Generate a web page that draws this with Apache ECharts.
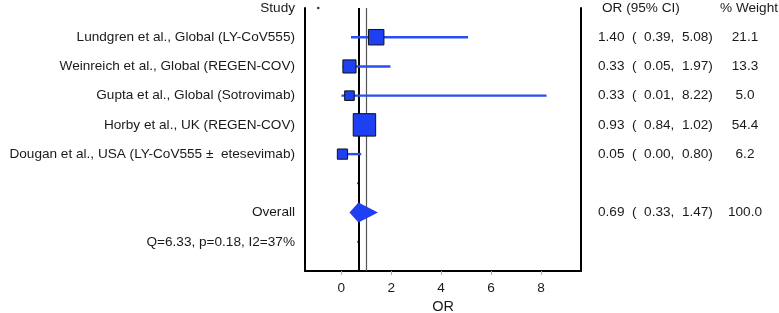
<!DOCTYPE html>
<html>
<head>
<meta charset="utf-8">
<script src="https://cdn.jsdelivr.net/npm/echarts@6/dist/echarts.min.js"></script>
<style>
  html, body { margin: 0; padding: 0; background: #fff; }
  #forest { width: 779px; height: 313px; }
</style>
</head>
<body>
<div id="forest"></div>
<script>
// row 0 is the header, studies on rows 1-5, overall on row 7, heterogeneity on row 8
const studies = [
  'Lundgren et al., Global (LY-CoV555)',
  'Weinreich et al., Global (REGEN-COV)',
  'Gupta et al., Global (Sotrovimab)',
  'Horby et al., UK (REGEN-COV)',
  'Dougan et al., USA (LY-CoV555 \u00b1  etesevimab)'
];
const orValues = [1.40, 0.33, 0.33, 0.93, 0.05];
const ciLow = [0.39, 0.05, 0.01, 0.84, 0.00];
const ciHigh = [5.08, 1.97, 8.22, 1.02, 0.80];
const weights = [21.1, 13.3, 5.0, 54.4, 6.2];
const overall = [0.69, 0.33, 1.47];
const nullValue = 1;
const heterogeneity = 'Q=6.33, p=0.18, I2=37%';
const xTicks = [0, 2, 4, 6, 8];
const headers = ['Study', 'OR (95% CI)', '% Weight'];
// stray dots left by the original plot
const dots = [[-0.92, 0], [0.69, 6], [0.69, 8]];

const studyRows = studies.map((s, i) => i + 1);
const overallRow = 7;

const fmt = (v) => v.toFixed(2);
const ciText = (o, l, h) => fmt(o) + '  (  ' + fmt(l) + ',  ' + fmt(h) + ')';

const leftLabels = {0: headers[0], 7: 'Overall', 8: heterogeneity};
const orLabels = {0: '{h|' + headers[1] + '}', 7: ciText(overall[0], overall[1], overall[2])};
const wLabels = {0: '{h|' + headers[2] + '}', 7: '100.0'};
studies.forEach((s, i) => {
  leftLabels[i + 1] = s;
  orLabels[i + 1] = ciText(orValues[i], ciLow[i], ciHigh[i]);
  wLabels[i + 1] = weights[i].toFixed(1);
});
const labelRows = [0, 1, 2, 3, 4, 5, 7, 8];

const blue = '#1f3ff2';
const txt = '#1a1a1a';
const font = '"Liberation Sans", Arial, sans-serif';
const fs = 13.6;

const rowAxis = {
  type: 'value', inverse: true, min: 0, max: 9,
  splitLine: {show: false}, axisTick: {show: false}
};

const myChart = echarts.init(document.getElementById('forest'));
myChart.setOption({
  animation: false,
  textStyle: {fontFamily: font},
  grid: {left: 305, right: 198, top: 8, bottom: 42, containLabel: false, outerBoundsMode: 'none'},
  xAxis: {
    type: 'value', min: -1.45, max: 9.6,
    name: 'OR', nameLocation: 'middle', nameGap: 26,
    nameTextStyle: {fontSize: 14.5, color: txt, fontFamily: font},
    splitLine: {show: false},
    axisLine: {show: true, onZero: false, lineStyle: {color: '#000', width: 2}},
    axisTick: {show: true, customValues: xTicks, length: 4, lineStyle: {color: '#aaa'}},
    axisLabel: {customValues: xTicks, margin: 10, fontSize: fs, color: txt, fontFamily: font}
  },
  yAxis: [
    Object.assign({}, rowAxis, {
      position: 'left',
      axisLine: {show: true, onZero: false, lineStyle: {color: '#000', width: 2}},
      axisLabel: {
        customValues: labelRows, margin: 10, fontSize: fs, color: txt, fontFamily: font,
        formatter: (v) => leftLabels[v] || ''
      }
    }),
    Object.assign({}, rowAxis, {
      position: 'right',
      axisLine: {show: true, onZero: false, lineStyle: {color: '#000', width: 2}},
      axisLabel: {
        customValues: labelRows, margin: 17, fontSize: fs, color: txt, fontFamily: font,
        formatter: (v) => orLabels[v] || '',
        rich: {h: {fontSize: fs, color: txt, fontFamily: font, padding: [0, 0, 0, 4]}}
      }
    }),
    Object.assign({}, rowAxis, {
      position: 'right', offset: 164,
      axisLine: {show: false, onZero: false},
      axisLabel: {
        customValues: labelRows, margin: 0, align: 'center', fontSize: fs, color: txt, fontFamily: font,
        formatter: (v) => wLabels[v] || '',
        rich: {h: {fontSize: fs, color: txt, fontFamily: font, padding: [0, 0, 0, 8]}}
      }
    })
  ],
  series: [
    {
      // reference lines: overall estimate and null effect, kept under the marks
      type: 'scatter', data: [], z: 1,
      markLine: {
        silent: true, z: 1, symbol: 'none', label: {show: false},
        data: [
          {xAxis: overall[0], lineStyle: {color: '#000', width: 2, type: 'solid'}},
          {xAxis: nullValue, lineStyle: {color: '#555', width: 1.2, type: 'solid'}}
        ]
      }
    },
    {
      type: 'scatter', z: 2, symbolSize: 2.5,
      itemStyle: {color: '#000'},
      data: dots
    },
    {
      type: 'custom', z: 3,
      data: studyRows.map((r, i) => [ciLow[i], ciHigh[i], r]),
      renderItem: (params, api) => {
        const a = api.coord([api.value(0), api.value(2)]);
        const b = api.coord([api.value(1), api.value(2)]);
        return {
          type: 'line',
          shape: {x1: a[0], y1: a[1], x2: b[0], y2: b[1]},
          style: {stroke: '#2b4ef2', lineWidth: 2.4}
        };
      }
    },
    {
      type: 'scatter', z: 4, symbol: 'rect',
      symbolSize: (val, p) => 4 + Math.sqrt(weights[p.dataIndex]) * 2.5,
      itemStyle: {color: blue, borderColor: '#111', borderWidth: 1, opacity: 1},
      data: studyRows.map((r, i) => [orValues[i], r])
    },
    {
      type: 'custom', z: 4,
      data: [[overall[0], overall[1], overall[2], overallRow]],
      renderItem: (params, api) => {
        const row = api.value(3);
        const c = api.coord([api.value(0), row]);
        const l = api.coord([api.value(1), row]);
        const h = api.coord([api.value(2), row]);
        const half = 10;
        return {
          type: 'polygon',
          shape: {points: [[l[0], c[1]], [c[0], c[1] - half], [h[0], c[1]], [c[0], c[1] + half]]},
          style: {fill: blue}
        };
      }
    }
  ]
});
</script>
</body>
</html>
